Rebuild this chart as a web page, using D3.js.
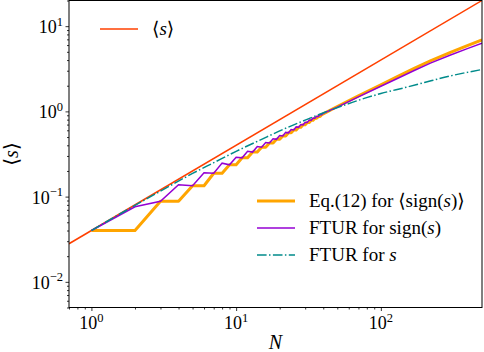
<!DOCTYPE html>
<html>
<head>
<meta charset="utf-8">
<script src="https://cdn.jsdelivr.net/npm/d3@7"></script>
<style>
  body { margin: 0; background: #fff; }
  text { font-family: "Liberation Serif", "DejaVu Serif", serif; fill: #000; }
</style>
</head>
<body>
<svg id="chart"></svg>
<script>
// values
const redN = [0.7, 500];
const redS = [0.028, 20];

// Eq.(12) for <sign(s)>: stepped for small N, smooth afterwards
const orangeN = [1, 2, 3, 4, 5, 6, 7, 8, 9, 10, 11, 12, 13, 14, 15, 16, 17, 18, 19, 20,
                 21, 22, 23, 24, 25, 26, 27, 28, 29, 30, 31, 32, 33, 34, 35, 36, 37, 38, 39, 40,
                 50, 70, 100, 130, 170, 220, 300, 400, 500];
const orangeS = [0.040, 0.040, 0.088, 0.088, 0.134, 0.134, 0.188, 0.188, 0.236, 0.236,
                 0.285, 0.285, 0.333, 0.333, 0.380, 0.380, 0.425, 0.425, 0.470, 0.470,
                 0.515, 0.515, 0.560, 0.560, 0.605, 0.605, 0.650, 0.650, 0.695, 0.695,
                 0.740, 0.740, 0.785, 0.785, 0.830, 0.830, 0.872, 0.872, 0.914, 0.935,
                 1.14, 1.52, 2.05, 2.56, 3.20, 3.92, 4.90, 5.95, 6.90];

// FTUR for sign(s): zigzag for small N
const purpleN = orangeN;
const purpleS = [0.040, 0.076, 0.088, 0.138, 0.134, 0.191, 0.188, 0.247, 0.236, 0.290,
                 0.285, 0.340, 0.333, 0.386, 0.380, 0.432, 0.425, 0.477, 0.470, 0.522,
                 0.515, 0.567, 0.560, 0.612, 0.605, 0.657, 0.650, 0.700, 0.695, 0.745,
                 0.740, 0.790, 0.785, 0.834, 0.830, 0.876, 0.872, 0.918, 0.914, 0.950,
                 1.12, 1.48, 1.97, 2.43, 3.02, 3.68, 4.55, 5.48, 6.30];

// FTUR for s
const tealN = [1, 2, 3, 5, 7, 10, 15, 20, 30, 46, 70, 100, 150, 200, 300, 500];
const tealS = [0.040, 0.079, 0.116, 0.187, 0.250, 0.340, 0.470, 0.590, 0.790, 1.05,
               1.35, 1.62, 1.92, 2.18, 2.60, 3.10];

const xDecades = [1, 10, 100];
const yDecades = [0.01, 0.1, 1, 10];
const xExp = ["0", "1", "2"];
const yExp = ["\u22122", "\u22121", "0", "1"];

const W = 484, H = 352;
const margin = { top: 0.5, right: 2, bottom: 44.5, left: 69 };

const svg = d3.select("#chart").attr("width", W).attr("height", H);

const x = d3.scaleLog().domain([0.7, 500]).range([margin.left, W - margin.right]);
const y = d3.scaleLog().domain([0.005, 20]).range([H - margin.bottom, margin.top]);

const zip = (a, b) => a.map((v, i) => [v, b[i]]);

svg.append("defs").append("clipPath").attr("id", "clip")
  .append("rect")
  .attr("x", margin.left).attr("y", margin.top)
  .attr("width", W - margin.left - margin.right)
  .attr("height", H - margin.top - margin.bottom);

const plot = svg.append("g").attr("clip-path", "url(#clip)");
const line = d3.line().x(d => x(d[0])).y(d => y(d[1]));

plot.append("path").datum(zip(redN, redS))
  .attr("d", line).attr("fill", "none")
  .attr("stroke", "#ff4000").attr("stroke-width", 1.5);

plot.append("path").datum(zip(orangeN, orangeS))
  .attr("d", line).attr("fill", "none")
  .attr("stroke", "#ffa500").attr("stroke-width", 3)
  .attr("stroke-linejoin", "round");

plot.append("path").datum(zip(purpleN, purpleS))
  .attr("d", line).attr("fill", "none")
  .attr("stroke", "#9400d3").attr("stroke-width", 1.5);

plot.append("path").datum(zip(tealN, tealS))
  .attr("d", d3.line().x(d => x(d[0])).y(d => y(d[1])).curve(d3.curveMonotoneX))
  .attr("fill", "none")
  .attr("stroke", "#008b8b").attr("stroke-width", 1.5)
  .attr("stroke-dasharray", "9.6,2.4,1.5,2.4");

// axes
const xAxis = d3.axisBottom(x).tickValues(xDecades).tickSize(3.5).tickFormat("");
const xMinor = d3.axisBottom(x)
  .tickValues(d3.range(0, 3).flatMap(k => d3.range(2, 10).map(m => m * Math.pow(10, k - 1))).filter(v => v >= 0.7 && v <= 500))
  .tickSize(2).tickFormat("");
const yAxis = d3.axisLeft(y).tickValues(yDecades).tickSize(3.5).tickFormat("");
const yMinor = d3.axisLeft(y)
  .tickValues(d3.range(0, 5).flatMap(k => d3.range(2, 10).map(m => m * Math.pow(10, k - 3))).filter(v => v >= 0.005 && v <= 20))
  .tickSize(2).tickFormat("");

const bottom = H - margin.bottom;
[xAxis, xMinor].forEach(a => svg.append("g")
  .attr("transform", `translate(0,${bottom})`).call(a)
  .call(g => g.select(".domain").remove()));
[yAxis, yMinor].forEach(a => svg.append("g")
  .attr("transform", `translate(${margin.left},0)`).call(a)
  .call(g => g.select(".domain").remove()));

svg.selectAll(".tick line").attr("stroke", "#000").attr("stroke-width", 0.8);

// frame
svg.append("rect")
  .attr("x", margin.left).attr("y", margin.top)
  .attr("width", W - margin.left - margin.right)
  .attr("height", H - margin.top - margin.bottom)
  .attr("fill", "none").attr("stroke", "#000").attr("stroke-width", 1);

// tick labels
xDecades.forEach((v, i) => {
  const t = svg.append("text")
    .attr("x", x(v)).attr("y", bottom + 21.5)
    .attr("text-anchor", "middle").style("font-size", "18px");
  t.append("tspan").text("10");
  t.append("tspan").attr("dy", -7.5).style("font-size", "12.5px").text(xExp[i]);
});
yDecades.forEach((v, i) => {
  const t = svg.append("text")
    .attr("x", margin.left - 6).attr("y", y(v) + 7)
    .attr("text-anchor", "end").style("font-size", "18px");
  t.append("tspan").text("10");
  t.append("tspan").attr("dy", -7.5).style("font-size", "12.5px").text(yExp[i]);
});

// axis labels
svg.append("text")
  .attr("x", (margin.left + W - margin.right) / 2).attr("y", 349)
  .attr("text-anchor", "middle").style("font-size", "20px").style("font-style", "italic")
  .text("N");

const yl = svg.append("text")
  .attr("transform", `translate(18,${(margin.top + bottom) / 2}) rotate(-90)`)
  .attr("text-anchor", "middle").style("font-size", "20px");
yl.append("tspan").text("\u27e8");
yl.append("tspan").style("font-style", "italic").text("s");
yl.append("tspan").text("\u27e9");

// legends
function legendEntry(yPos, x0, x1, color, width, dash, parts) {
  svg.append("line")
    .attr("x1", x0).attr("x2", x1).attr("y1", yPos).attr("y2", yPos)
    .attr("stroke", color).attr("stroke-width", width)
    .attr("stroke-dasharray", dash);
  const t = svg.append("text")
    .attr("x", x1 + 14).attr("y", yPos + 6)
    .style("font-size", "19px");
  parts.forEach(p => t.append("tspan")
    .style("font-style", p[1] ? "italic" : "normal").text(p[0]));
}

legendEntry(29, 100, 138, "#ff4000", 1.5, null,
  [["\u27e8", false], ["s", true], ["\u27e9", false]]);
legendEntry(201, 257, 295, "#ffa500", 3, null,
  [["Eq.(12) for \u27e8sign(", false], ["s", true], [")\u27e9", false]]);
legendEntry(228, 257, 295, "#9400d3", 1.5, null,
  [["FTUR for sign(", false], ["s", true], [")", false]]);
legendEntry(255, 257, 295, "#008b8b", 1.5, "9.6,2.4,1.5,2.4",
  [["FTUR for ", false], ["s", true]]);
</script>
</body>
</html>
